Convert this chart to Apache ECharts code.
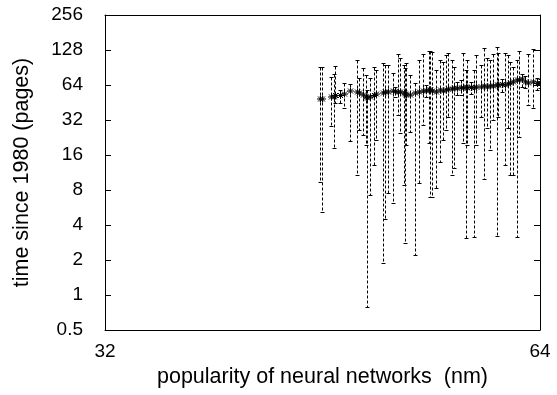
<!DOCTYPE html>
<html>
<head>
<meta charset="utf-8">
<script src="https://cdn.jsdelivr.net/npm/echarts@6/dist/echarts.min.js"></script>
<style>
html, body { margin: 0; padding: 0; background: #fff; }
#chart { width: 557px; height: 395px; }
</style>
</head>
<body>
<div id="chart"></div>
<script>
// popularity (nm), centre value, lower end, upper end of each error bar
var xs = [45.1, 45.2, 45.9, 46.1, 46.2, 46.5, 46.8, 47.3, 47.8, 48.0, 48.3, 48.5, 48.6, 48.8, 49.1, 49.3, 49.8, 50.0, 50.2, 50.6,
	50.8, 51.0, 51.2, 51.5, 51.6, 51.7, 52.0, 52.4, 52.8, 53.1, 53.4, 53.6, 53.7, 53.9, 54.2, 54.6, 54.8, 55.1, 55.3, 55.6,
	55.8, 56.1, 56.4, 56.6, 56.9, 57.0, 57.3, 57.6, 57.8, 58.3, 58.5, 58.8, 59.1, 59.4, 59.8, 59.9, 60.2, 60.5, 60.8, 61.0,
	61.3, 61.7, 61.9, 62.2, 62.5, 62.8, 63.3, 63.7, 64.0]
var ys = [48.5, 48.5, 50.5, 50.5, 52, 52, 53.5, 56.8, 55.7, 54.6, 52.5, 50.5, 49.5, 50.5, 52, 53.5, 54.6, 55.7, 55.7, 56.8,
	56, 55.7, 55.7, 54.6, 53.5, 52.5, 52.5, 54.6, 55.7, 56.8, 57, 58, 58, 56.8, 55.7, 58, 56.8, 58, 59, 59,
	60.3, 60, 60.5, 60.3, 61.5, 60.3, 61, 60.3, 61.5, 61.5, 62.7, 61.5, 62.7, 62.7, 64, 64, 64.5, 64, 65.3, 66.6,
	68, 70.7, 70.7, 72, 68, 66.6, 68, 66, 66]
var lows = [9.4, 5.2, 28.5, 18.4, 44.8, 45, 40.4, 21.1, 10.8, 26.2, 23.8, 19.5, 0.79, 7.2, 13.1, 21.5, 1.88, 4.5, 7.5, 6.2,
	50, 35, 24.7, 8.8, 2.8, 19.5, 25.2, 2.2, 9.2, 29, 50, 20.3, 7.0, 7.0, 8.3, 13.9, 21.5, 26.2, 33.9, 10.8,
	12.4, 53, 52, 20.3, 3.1, 19.5, 54, 3.15, 19.5, 33.9, 9.9, 27.3, 17.6, 32, 3.2, 33.9, 56, 13.1, 27.3, 10.8,
	10.8, 3.15, 22.8, 62, 60, 43, 40.5, 58, 60]
var highs = [91, 91, 75, 79.7, 93, 58, 66.7, 65.4, 105, 73.7, 89.6, 78, 58, 73.7, 91, 86, 99, 95, 95, 81,
	62, 118, 109, 95, 89.6, 99, 78, 66.7, 105, 118, 64, 125, 125, 123, 86, 105, 100.6, 116, 120, 105,
	91, 68, 70, 120, 86, 105, 68, 86, 116, 95, 133, 109, 105, 118, 136, 120, 72, 120, 116, 100.6,
	91, 105, 125, 80, 76, 118, 130, 74, 72]
var yTicks = [0.5, 1, 2, 4, 8, 16, 32, 64, 128, 256]
var xTicks = [32, 64]

var rows = xs.map(function (x, i) {
	return [x, ys[i], lows[i], highs[i]]
})

var font = 'Liberation Sans, Arial, Helvetica, sans-serif'
var chart = echarts.init(document.getElementById('chart'))

// dashed error bar with caps and an asterisk at the centre
function renderItem(params, api) {
	var x = api.value(0)
	var c = api.coord([x, api.value(1)])
	var lo = api.coord([x, api.value(2)])
	var hi = api.coord([x, api.value(3)])
	var px = Math.round(c[0]) + 0.5
	var yl = Math.round(lo[1]) + 0.5
	var yh = Math.round(hi[1]) + 0.5
	var thin = { stroke: '#000', lineWidth: 1 }
	var children = [
		{ type: 'line', shape: { x1: px, y1: yh, x2: px, y2: yl }, style: { stroke: '#000', lineWidth: 1, lineDash: [3, 2] } },
		{ type: 'line', shape: { x1: px - 2, y1: yh, x2: px + 2, y2: yh }, style: thin },
		{ type: 'line', shape: { x1: px - 2, y1: yl, x2: px + 2, y2: yl }, style: thin }
	]
	var r = 3.5
	var d = 2.5
	var cy = c[1]
	children.push({ type: 'line', shape: { x1: px - r, y1: cy, x2: px + r, y2: cy }, style: thin })
	children.push({ type: 'line', shape: { x1: px, y1: cy - r, x2: px, y2: cy + r }, style: thin })
	children.push({ type: 'line', shape: { x1: px - d, y1: cy - d, x2: px + d, y2: cy + d }, style: thin })
	children.push({ type: 'line', shape: { x1: px - d, y1: cy + d, x2: px + d, y2: cy - d }, style: thin })
	return { type: 'group', children: children }
}

var axisLine = { show: true, lineStyle: { color: '#000', width: 1 } }

chart.setOption({
	animation: false,
	grid: { left: 105, right: 17, top: 15, bottom: 65, containLabel: false },
	xAxis: [
		{
			type: 'log',
			logBase: 2,
			min: xTicks[0],
			max: xTicks[xTicks.length - 1],
			interval: 1,
			position: 'bottom',
			axisLine: axisLine,
			axisTick: { show: false },
			splitLine: { show: false },
			axisLabel: { color: '#000', fontSize: 19, fontFamily: font, margin: 12 },
			name: 'popularity of neural networks  (nm)',
			nameLocation: 'middle',
			nameGap: 36,
			nameTextStyle: { color: '#000', fontSize: 21.5, fontFamily: font }
		},
		{
			type: 'log',
			logBase: 2,
			min: xTicks[0],
			max: xTicks[xTicks.length - 1],
			position: 'top',
			axisLine: axisLine,
			axisTick: { show: false },
			axisLabel: { show: false },
			splitLine: { show: false }
		}
	],
	yAxis: [
		{
			type: 'log',
			logBase: 2,
			min: yTicks[0],
			max: yTicks[yTicks.length - 1],
			interval: 1,
			position: 'left',
			axisLine: axisLine,
			axisTick: { show: true, inside: true, length: 6, lineStyle: { color: '#000' } },
			splitLine: { show: false },
			axisLabel: { color: '#000', fontSize: 19, fontFamily: font, margin: 22 },
			name: 'time since 1980 (pages)',
			nameLocation: 'middle',
			nameGap: 72,
			nameTextStyle: { color: '#000', fontSize: 21.5, fontFamily: font }
		},
		{
			type: 'log',
			logBase: 2,
			min: yTicks[0],
			max: yTicks[yTicks.length - 1],
			interval: 1,
			position: 'right',
			axisLine: axisLine,
			axisTick: { show: true, inside: true, length: 6, lineStyle: { color: '#000' } },
			axisLabel: { show: false },
			splitLine: { show: false }
		}
	],
	series: [
		{
			type: 'custom',
			renderItem: renderItem,
			data: rows,
			encode: { x: 0, y: [1, 2, 3] },
			clip: true
		}
	]
})
</script>
</body>
</html>
